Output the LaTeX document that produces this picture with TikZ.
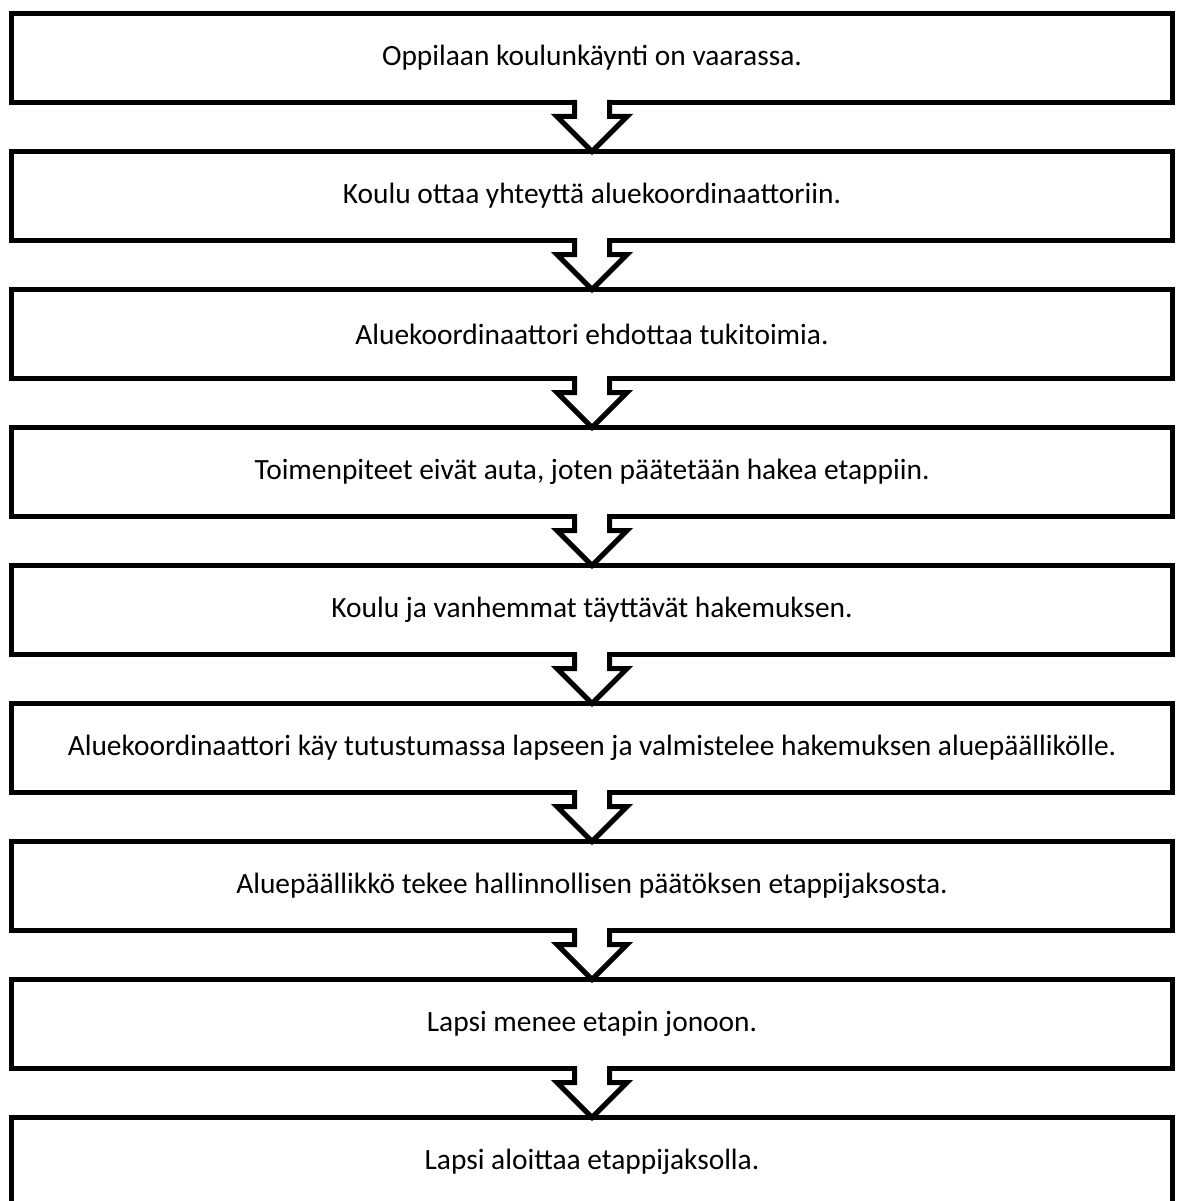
\documentclass[tikz,border=0pt]{standalone}
\usepackage{fontspec}
\setmainfont{Carlito}
\usepackage{tikz}

\newcommand{\flowarrow}[2]{%
  \filldraw[arrowline] ([xshift=-17.5pt,yshift=2.5pt]#1.south) -- ++(0,-16.5)
    -- ++(-17.5,0) -- (#2.north) -- ([xshift=35pt,yshift=-14pt]#1.south)
    -- ++(-17.5,0) -- ([xshift=17.5pt,yshift=2.5pt]#1.south);}

\begin{document}
\begin{tikzpicture}[x=1pt,y=1pt]
        \tikzset{stepbox/.style = {draw, line width=5pt, outer sep=0pt,
                 minimum width=1161pt, minimum height=89pt,
                 font=\fontsize{29.4}{34}\selectfont},
                 arrowline/.style = {draw=black, fill=white, line width=5pt}}
        \useasboundingbox (0,0) rectangle (1176,-1201);
        % steps
        \node[stepbox] (s1) at (592,-58)   {Oppilaan koulunkäynti on vaarassa.};
        \node[stepbox] (s2) at (592,-196)  {Koulu ottaa yhteyttä aluekoordinaattoriin.};
        \node[stepbox] (s3) at (592,-334)  {Aluekoordinaattori ehdottaa tukitoimia.};
        \node[stepbox] (s4) at (592,-472)  {Toimenpiteet eivät auta, joten päätetään hakea etappiin.};
        \node[stepbox] (s5) at (592,-610)  {Koulu ja vanhemmat täyttävät hakemuksen.};
        \node[stepbox] (s6) at (592,-748)  {Aluekoordinaattori käy tutustumassa lapseen ja valmistelee hakemuksen aluepäällikölle.};
        \node[stepbox] (s7) at (592,-886)  {Aluepäällikkö tekee hallinnollisen päätöksen etappijaksosta.};
        \node[stepbox] (s8) at (592,-1024) {Lapsi menee etapin jonoon.};
        \node[stepbox] (s9) at (592,-1162) {Lapsi aloittaa etappijaksolla.};
        % arrows
        \flowarrow{s1}{s2}
        \flowarrow{s2}{s3}
        \flowarrow{s3}{s4}
        \flowarrow{s4}{s5}
        \flowarrow{s5}{s6}
        \flowarrow{s6}{s7}
        \flowarrow{s7}{s8}
        \flowarrow{s8}{s9}
\end{tikzpicture}
\end{document}
